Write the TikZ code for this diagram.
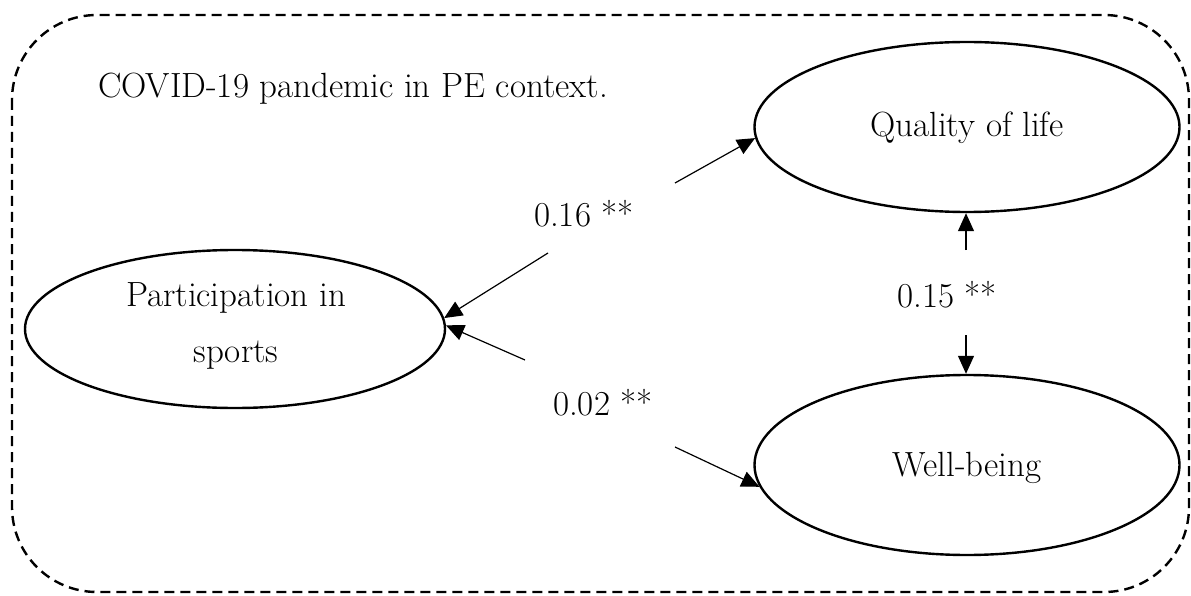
\documentclass[tikz,border=0pt]{standalone}
\usetikzlibrary{arrows.meta,shapes.geometric}
\begin{document}
\begin{tikzpicture}[x=1pt,y=-1pt,
  every node/.style={font=\fontsize{35}{56}\selectfont},
  latent/.style={draw,ellipse,line width=2.4pt,inner sep=0pt},
  conn/.style={line width=1.2pt,-{Triangle[length=18pt,width=16pt]}},
  lbl/.style={inner sep=0pt}]
\useasboundingbox (0,0) rectangle (1191,596);
\draw[line width=2.4pt,dash pattern=on 10pt off 6pt,rounded corners=85pt] (12,15) rectangle (1189,592);
\node[lbl,anchor=base west] (ctx) at (98,98) {COVID-19 pandemic in PE context.};
\node[latent,minimum width=420pt,minimum height=158pt] (part) at (235,329) {};
\node[lbl,align=center] (partt) at (236,326) {Participation in\\sports};
\node[latent,minimum width=425pt,minimum height=170pt] (qol) at (967,127) {};
\node[lbl] (qolt) at (967,128) {Quality of life};
\node[latent,minimum width=425pt,minimum height=180pt] (wb) at (967,465) {};
\node[lbl] (wbt) at (967,468) {Well-being};
\node[lbl,anchor=base] (l16) at (584,226) {0.16 **};
\node[lbl,anchor=base] (l02) at (603,415) {0.02 **};
\node[lbl,anchor=base] (l15) at (947,307) {0.15 **};
\coordinate (a1) at (548,253);
\coordinate (a2) at (675,183);
\coordinate (b1) at (525,360);
\coordinate (b2) at (675,447);
\coordinate (c1) at (966,250);
\coordinate (c2) at (966,335);
\draw[conn] (a1) -- (part.3);
\draw[conn] (a2) -- (qol.183);
\draw[conn] (b1) -- (part.1.5);
\draw[conn] (b2) -- (wb.186);
\draw[conn] (c1) -- (c1 |- qol.south);
\draw[conn] (c2) -- (c2 |- wb.north);
\end{tikzpicture}
\end{document}
